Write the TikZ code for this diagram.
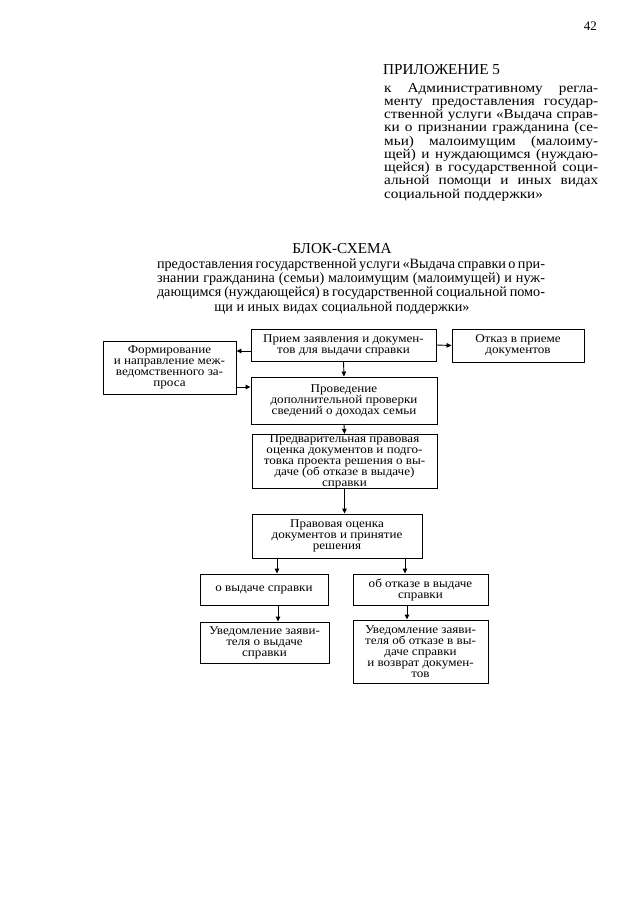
\documentclass[tikz,border=0pt]{standalone}
\usepackage{fontspec}
\setmainfont{Liberation Serif}
\newfontfamily\boxfont[FakeStretch=1.1]{Liberation Serif}
\newfontfamily\appfont[FakeStretch=1.12]{Liberation Serif}
\usetikzlibrary{arrows.meta}
\newcommand\tightls{\lineskiplimit=-20pt\relax}
\newcommand\tline[1]{\makebox[388pt][s]{\spaceskip=0.16em plus 1em\relax #1}}
\begin{document}
\begin{tikzpicture}[x=1pt,y=-1pt,
  box/.style={draw, line width=0.9pt, align=center, inner sep=0pt,
    font=\tightls\boxfont\fontsize{11.9}{11}\selectfont},
  arr/.style={line width=0.9pt, -{Triangle[length=5pt,width=4.5pt]}},
  txt/.style={inner sep=0pt}]
\useasboundingbox (0,0) rectangle (640,905);
\fill[white] (0,0) rectangle (640,905);

% page number
\node[txt, anchor=base east, font=\fontsize{13}{14}\selectfont] (pg) at (597,30) {42};

% appendix
\node[txt, anchor=base west, font=\fontsize{15.2}{15}\selectfont] (hd) at (383,74) {ПРИЛОЖЕНИЕ 5};
\node[txt, anchor=north west, align=left, font=\tightls\appfont\fontsize{13.6}{13.25}\selectfont] (app) at (384,83) {%
\makebox[214pt][s]{к Административному регла-}\\
\makebox[214pt][s]{менту предоставления государ-}\\
\makebox[214pt][s]{ственной услуги «Выдача справ-}\\
\makebox[214pt][s]{ки о признании гражданина (се-}\\
\makebox[214pt][s]{мьи) малоимущим (малоиму-}\\
\makebox[214pt][s]{щей) и нуждающимся (нуждаю-}\\
\makebox[214pt][s]{щейся) в государственной соци-}\\
\makebox[214pt][s]{альной помощи и иных видах}\\
социальной поддержки»};

% title
\node[txt, anchor=base, font=\fontsize{15.2}{15}\selectfont] (t1) at (342,253) {БЛОК-СХЕМА};
\node[txt, anchor=north, align=center, font=\tightls\fontsize{14.2}{14.2}\selectfont] (t2) at (351,258.5) {%
\tline{предоставления государственной услуги «Выдача справки о при-}\\
\tline{знании гражданина (семьи) малоимущим (малоимущей) и нуж-}\\
\tline{дающимся (нуждающейся) в государственной социальной помо-}\\
\hspace*{-18pt}щи и иных видах социальной поддержки»};

% boxes
\node[box, minimum width=185pt, minimum height=32pt] (priem) at (343.5,345) {Прием заявления и докумен-\\тов для выдачи справки};
\node[box, minimum width=132pt, minimum height=33pt] (otkaz) at (518,345.5) {Отказ в приеме\\документов};
\node[box, minimum width=133pt, minimum height=53pt] (form) at (169.5,367.5) {Формирование\\и направление меж-\\ведомственного за-\\проса};
\node[box, minimum width=186pt, minimum height=47pt] (prov) at (344,400.5) {Проведение\\дополнительной проверки\\сведений о доходах семьи};
\node[box, minimum width=185pt, minimum height=53pt] (pred) at (344.5,461.5) {Предварительная правовая\\оценка документов и подго-\\товка проекта решения о вы-\\даче (об отказе в выдаче)\\справки};
\node[box, minimum width=170pt, minimum height=44pt] (prav) at (337,536) {Правовая оценка\\документов и принятие\\решения};
\node[box, minimum width=128pt, minimum height=31pt] (vyd) at (264,589.5) {о выдаче справки};
\node[box, minimum width=135pt, minimum height=31pt] (otk) at (420.5,589.5) {об отказе в выдаче\\справки};
\node[box, minimum width=129pt, minimum height=41pt] (uv1) at (264.5,642.5) {Уведомление заяви-\\теля о выдаче\\справки};
\node[box, minimum width=135pt, minimum height=63pt] (uv2) at (420.5,651.5) {Уведомление заяви-\\теля об отказе в вы-\\даче справки\\и возврат докумен-\\тов};

% connectors
\draw[arr] ([yshift=-6pt]priem.west) -- ([yshift=-6pt]priem.west -| form.east);
\draw[arr] (priem.east) -- (otkaz.west);
\draw[arr] ([yshift=-19.5pt]form.east) -- ([yshift=-19.5pt]form.east -| prov.west);
\draw[arr] (priem.south) -- (prov.north);
\draw[arr] (prov.south) -- (pred.north);
\draw[arr] (pred.south) -- (pred.south |- prav.north);
\draw[arr] ([xshift=13pt]vyd.north |- prav.south) -- ([xshift=13pt]vyd.north);
\draw[arr] ([xshift=-15.5pt]otk.north |- prav.south) -- ([xshift=-15.5pt]otk.north);
\draw[arr] ([xshift=14pt]vyd.south) -- ([xshift=14pt]vyd.south |- uv1.north);
\draw[arr] ([xshift=-13.5pt]otk.south) -- ([xshift=-13.5pt]otk.south |- uv2.north);
\end{tikzpicture}
\end{document}
